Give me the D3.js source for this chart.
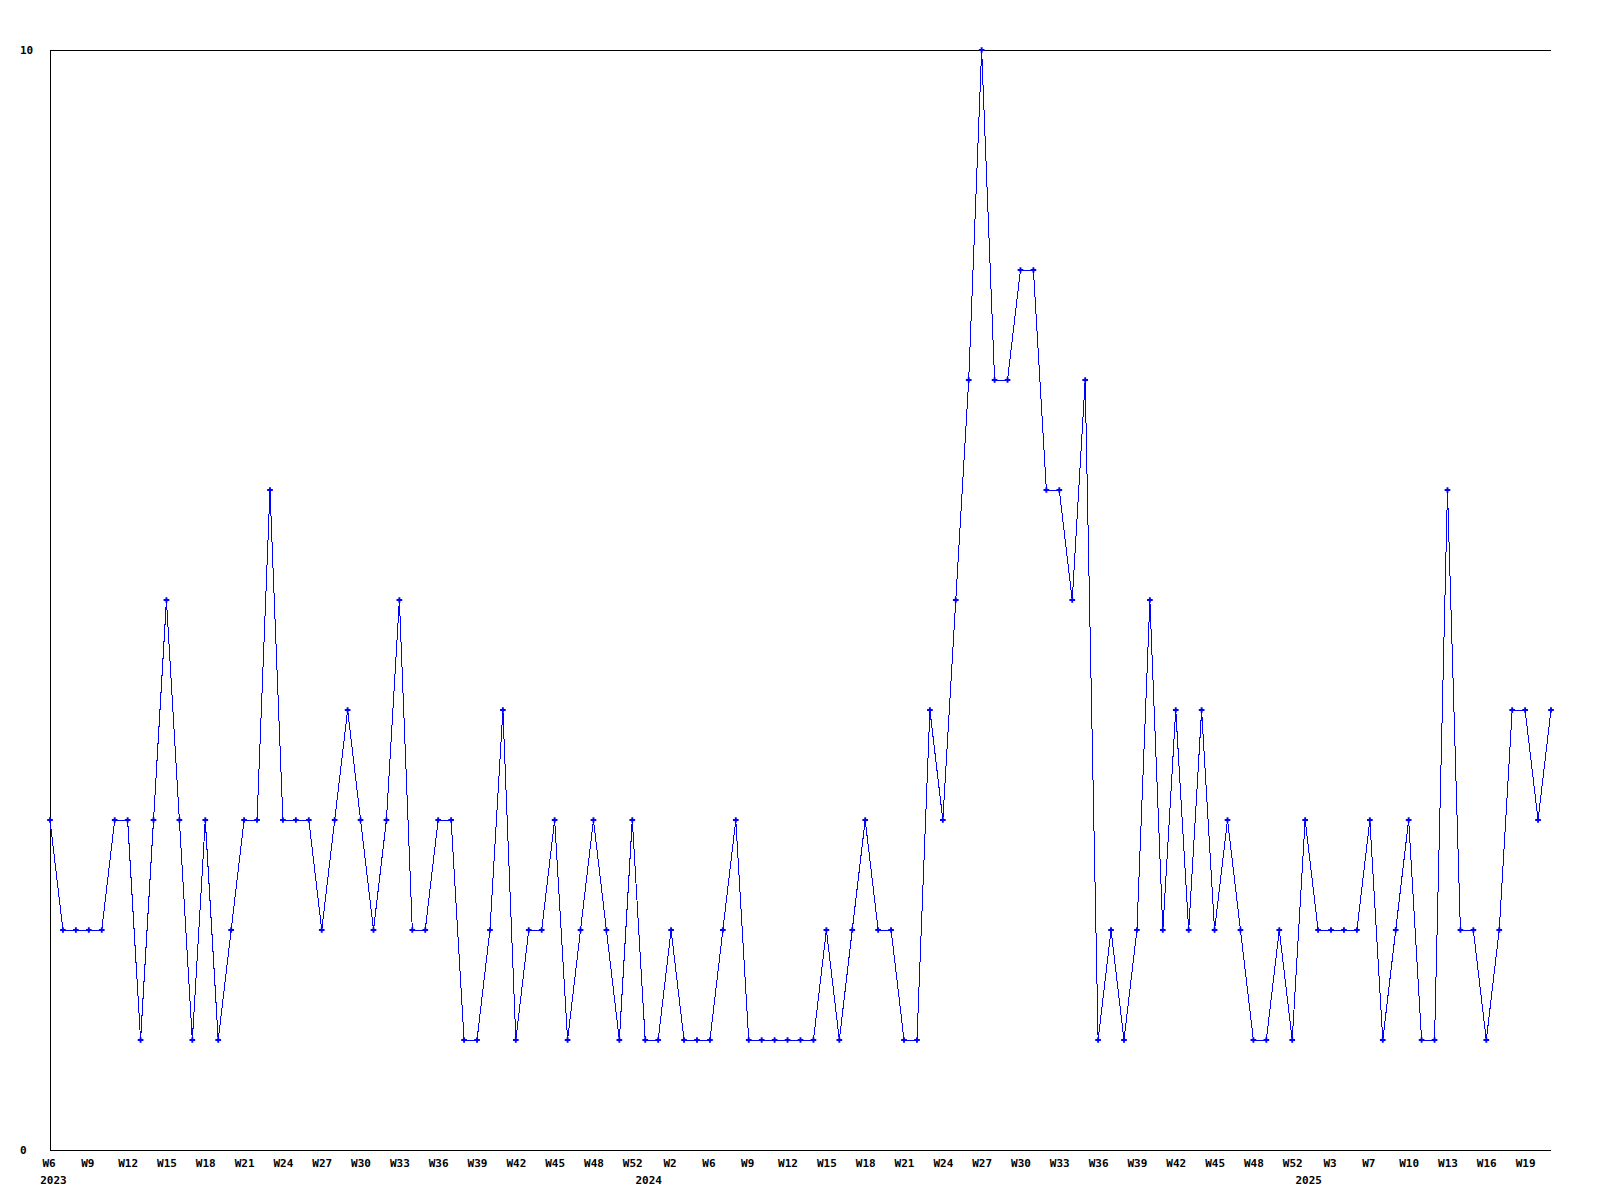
<!DOCTYPE html>
<html>
<head>
<meta charset="utf-8">
<script src="https://cdn.jsdelivr.net/npm/d3@7"></script>
<style>
  html, body { margin: 0; padding: 0; background: #ffffff; }
  svg { display: block; }
  text { font-family: "DejaVu Sans Mono", "Liberation Mono", monospace; font-weight: bold; font-size: 11px; fill: #000; }
</style>
</head>
<body>
<svg id="chart" width="1600" height="1200"></svg>
<script>
// ---- data ----
const values = [3,2,2,2,2,3,3,1,3,5, 3,1,3,1,2,3,3,6,3,3, 3,2,3,4,3,2,3,5,2,2,
                3,3,1,1,2,4,1,2,2,3, 1,2,3,2,1,3,1,1,2,1, 1,1,2,3,1,1,1,1,1,1,
                2,1,2,3,2,2,1,1,4,3, 5,7,10,7,7,8,8,6,6,5, 7,1,2,1,2,5,2,4,2,4,
                2,3,2,1,1,2,1,3,2,2, 2,2,3,1,2,3,1,1,6,2, 2,1,2,4,4,3,4];
const weekTickLabels = ["W6","W9","W12","W15","W18","W21","W24","W27","W30","W33","W36","W39","W42","W45","W48","W52",
                        "W2","W6","W9","W12","W15","W18","W21","W24","W27","W30","W33","W36","W39","W42","W45","W48","W52",
                        "W3","W7","W10","W13","W16","W19"];
const tickEvery = 3;
const yearLabels = ["2023","2024","2025"];
const yearIndex = [0, 46, 97];
const yTickValues = [0, 10];

// ---- layout ----
const svg = d3.select("#chart");
const mLeft = 50, mRight = 1551, mTop = 50, mBottom = 1150;

const x = d3.scaleLinear().domain([0, values.length - 1]).range([mLeft, mRight]);
const y = d3.scaleLinear().domain([0, 10]).range([mBottom, mTop]);

// frame: left, top, bottom lines
const frame = svg.append("g").attr("stroke", "#000").attr("stroke-width", 1).attr("shape-rendering", "crispEdges");
frame.append("line").attr("x1", x(0)).attr("x2", x(0)).attr("y1", y(0)).attr("y2", y(10));
frame.append("line").attr("x1", x(0)).attr("x2", x(values.length - 1)).attr("y1", y(10)).attr("y2", y(10));
frame.append("line").attr("x1", x(0)).attr("x2", x(values.length - 1)).attr("y1", y(0)).attr("y2", y(0));

// x axis week labels
const tickIdx = weekTickLabels.map((d, i) => i * tickEvery);
const xAxis = d3.axisBottom(x)
  .tickValues(tickIdx)
  .tickSize(0)
  .tickPadding(0)
  .tickFormat((d, i) => weekTickLabels[i]);
const gx = svg.append("g").attr("transform", `translate(0,${mBottom + 8})`).call(xAxis);
gx.select(".domain").remove();
gx.attr("font-family", null).attr("font-size", null);
gx.selectAll("text").attr("dy", "0.35em").attr("y", 5).attr("dx", (d, i) => weekTickLabels[i].length === 2 ? -1.5 : 0);

// year labels
svg.append("g").selectAll("text").data(yearLabels).join("text")
  .attr("x", (d, i) => x(yearIndex[i]) + 3.5)
  .attr("y", mBottom + 34)
  .attr("text-anchor", "middle")
  .text(d => d);

// y labels
svg.append("g").selectAll("text").data(yTickValues).join("text")
  .attr("x", 20)
  .attr("y", d => y(d) + 4)
  .attr("text-anchor", "start")
  .text(d => d);

// line
const line = d3.line().x((d, i) => x(i)).y(d => y(d));
svg.append("path")
  .datum(values)
  .attr("fill", "none")
  .attr("stroke", "#0000ff")
  .attr("stroke-width", 1)
  .attr("shape-rendering", "crispEdges")
  .attr("d", line);

// markers
svg.append("g").selectAll("path").data(values).join("path")
  .attr("transform", (d, i) => `translate(${x(i)},${y(d)})`)
  .attr("d", d3.symbol(d3.symbolCross, 18))
  .attr("fill", "#0000ff");
</script>
</body>
</html>
